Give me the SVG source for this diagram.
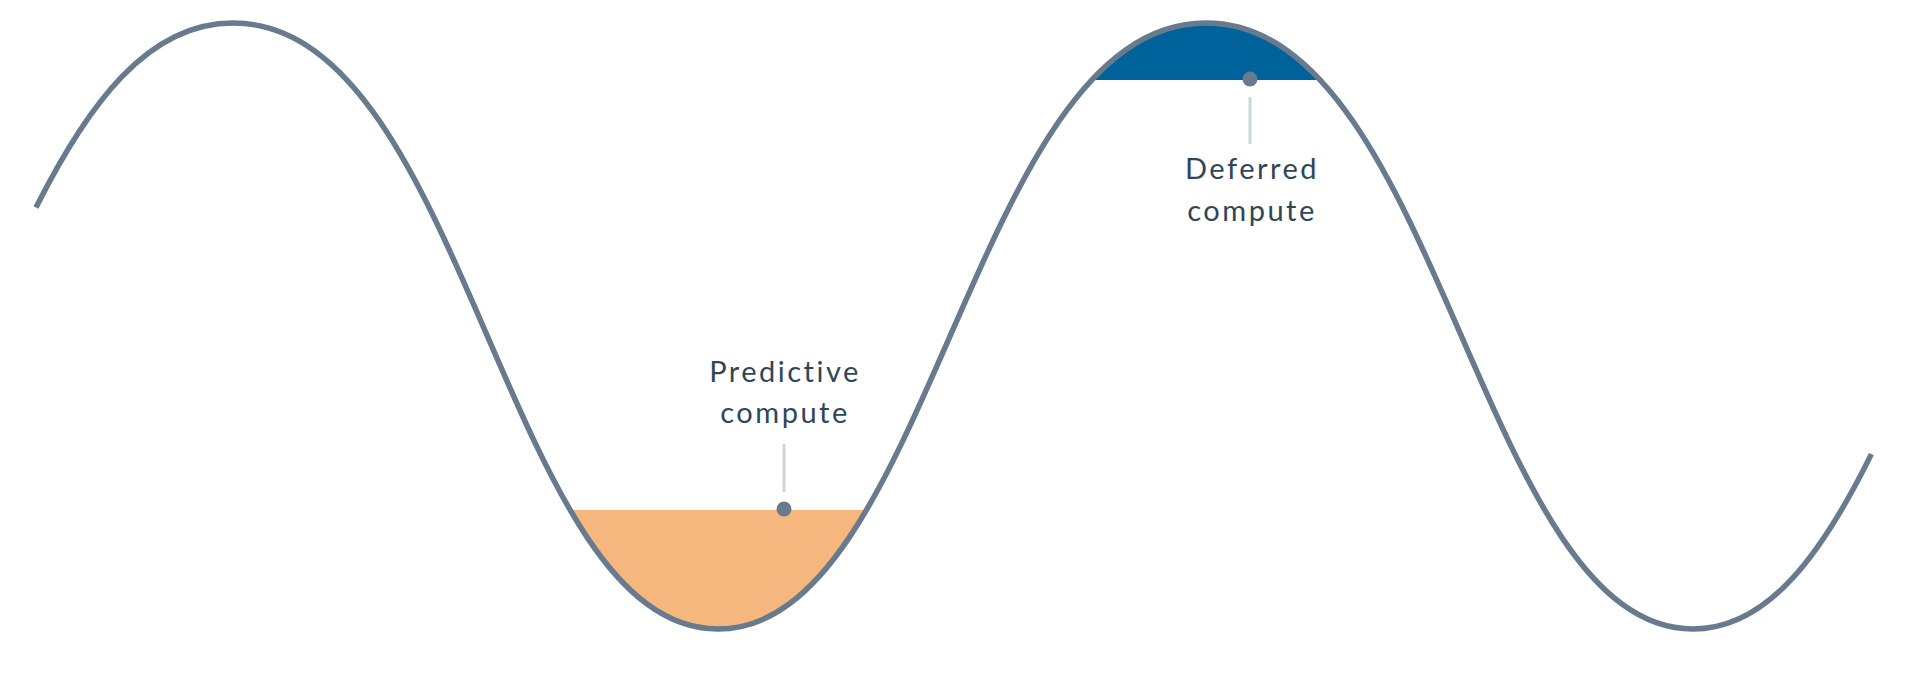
<svg xmlns="http://www.w3.org/2000/svg" width="1920" height="689" viewBox="0 0 1920 689">
  <style>
    .wave { fill: none; stroke: #687a8d; stroke-width: 5.5; }
    .leader { stroke: #cdd5df; stroke-width: 3; }
    .dot { fill: #687a8d; }
    .label { font-family: Lato, "Liberation Sans", sans-serif; font-size: 29px; fill: #304658; letter-spacing: 2.5px; text-anchor: middle; }
  </style>
  <defs>
    <clipPath id="clipLow"><rect x="0" y="510" width="1920" height="179"/></clipPath>
    <clipPath id="clipHigh"><rect x="0" y="0" width="1920" height="80"/></clipPath>
  </defs>
  <rect width="1920" height="689" fill="#ffffff"/>
  <g id="fills">
    <path clip-path="url(#clipLow)" fill="#f6b77e" d="M 233 23 C 466 23 505 629 718 629 C 931 629 973 23 1206 23 Z"/>
    <path clip-path="url(#clipHigh)" fill="#00629b" d="M 718 629 C 931 629 973 23 1206 23 C 1439 23 1480 629 1693 629 Z"/>
  </g>
  <g id="connectors">
    <path class="wave" d="M 35.97 207.53 C 87.87 104.4 147.61 23 233 23 C 466 23 505 629 718 629 C 931 629 973 23 1206 23 C 1439 23 1480 629 1693 629 C 1768.6 629 1822.7 552.6 1871.4 454.1"/>
    <line class="leader" x1="784" y1="444" x2="784" y2="492"/>
    <line class="leader" x1="1250" y1="97" x2="1250" y2="144"/>
  </g>
  <g id="predictive">
    <circle class="dot" cx="784" cy="509" r="7.5"/>
    <text class="label" x="785" y="382">Predictive</text>
    <text class="label" x="785" y="423">compute</text>
  </g>
  <g id="deferred">
    <circle class="dot" cx="1250" cy="79" r="7.5"/>
    <text class="label" x="1252" y="179">Deferred</text>
    <text class="label" x="1252" y="221">compute</text>
  </g>
</svg>
